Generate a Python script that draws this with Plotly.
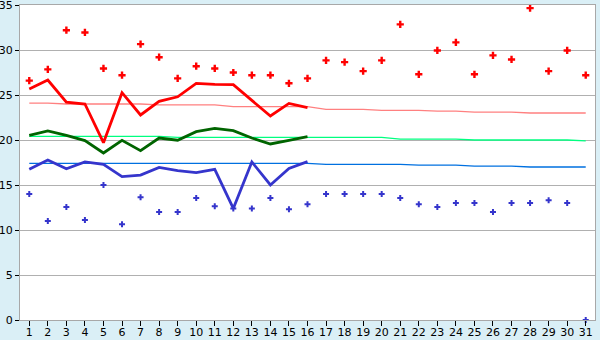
import plotly.graph_objects as go

days = list(range(1, 32))
tick_labels = [str(d) for d in days]
y_ticks = [0, 5, 10, 15, 20, 25, 30, 35]

# daily maxima (markers)
max_pts = [26.6, 27.85, 32.2, 31.95, 27.95, 27.2, 30.65, 29.2, 26.85, 28.2,
           27.95, 27.5, 27.2, 27.2, 26.3, 26.85, 28.85, 28.65, 27.65, 28.85,
           32.85, 27.3, 29.95, 30.85, 27.3, 29.4, 28.95, 34.65, 27.65, 29.95, 27.2]
# daily minima (markers)
min_pts = [14.0, 11.0, 12.55, 11.1, 15.0, 10.65, 13.65, 12.0, 12.0, 13.55,
           12.65, 12.4, 12.4, 13.55, 12.3, 12.85, 14.0, 14.0, 14.0, 14.0,
           13.55, 12.85, 12.55, 13.0, 13.0, 12.0, 13.0, 13.0, 13.3, 13.0, 0.0]

# thick lines (days 1-16)
line_days = list(range(1, 17))
red_line = [25.67, 26.67, 24.2, 24.0, 19.7, 25.26, 22.78, 24.3, 24.8, 26.3,
            26.18, 26.15, 24.4, 22.67, 24.07, 23.6]
green_line = [20.52, 21.0, 20.52, 19.93, 18.56, 19.96, 18.82, 20.22, 19.98, 20.93,
              21.3, 21.04, 20.22, 19.56, 19.96, 20.37]
blue_line = [16.74, 17.78, 16.81, 17.56, 17.3, 15.93, 16.1, 16.96, 16.6, 16.37,
             16.74, 12.4, 17.56, 15.0, 16.85, 17.59]

# thin normal lines (days 1-31)
pink_norm = [24.1, 24.1, 24.0, 24.0, 24.0, 24.0, 24.0, 23.9, 23.9, 23.9,
             23.9, 23.7, 23.7, 23.7, 23.7, 23.7, 23.4, 23.4, 23.4, 23.3,
             23.3, 23.3, 23.2, 23.2, 23.1, 23.1, 23.1, 23.0, 23.0, 23.0, 23.0]
lgreen_norm = [20.4, 20.4, 20.4, 20.4, 20.4, 20.4, 20.4, 20.4, 20.3, 20.3,
               20.3, 20.3, 20.3, 20.3, 20.3, 20.3, 20.3, 20.3, 20.3, 20.3,
               20.1, 20.1, 20.1, 20.1, 20.0, 20.0, 20.0, 20.0, 20.0, 20.0, 19.9]
lblue_norm = [17.4, 17.4, 17.4, 17.4, 17.4, 17.4, 17.4, 17.4, 17.4, 17.4,
              17.4, 17.4, 17.4, 17.4, 17.4, 17.4, 17.3, 17.3, 17.3, 17.3,
              17.3, 17.2, 17.2, 17.2, 17.1, 17.1, 17.1, 17.0, 17.0, 17.0, 17.0]

fig = go.Figure()
fig.add_trace(go.Scatter(x=days, y=pink_norm, mode="lines",
                         line=dict(color="#FF8080", width=1.3)))
fig.add_trace(go.Scatter(x=days, y=lgreen_norm, mode="lines",
                         line=dict(color="#00FF80", width=1.3)))
fig.add_trace(go.Scatter(x=days, y=lblue_norm, mode="lines",
                         line=dict(color="#0070E0", width=1.3)))
fig.add_trace(go.Scatter(x=line_days, y=red_line, mode="lines",
                         line=dict(color="#FF0000", width=2.8)))
fig.add_trace(go.Scatter(x=line_days, y=green_line, mode="lines",
                         line=dict(color="#006400", width=2.8)))
fig.add_trace(go.Scatter(x=line_days, y=blue_line, mode="lines",
                         line=dict(color="#3535CC", width=2.8)))
fig.add_trace(go.Scatter(x=days, y=max_pts, mode="markers", cliponaxis=False,
                         marker=dict(symbol="cross", size=6, color="#FF0000",
                                     line=dict(width=0))))
fig.add_trace(go.Scatter(x=days, y=min_pts, mode="markers", cliponaxis=False,
                         marker=dict(symbol="cross", size=5, color="#3535CC",
                                     line=dict(width=0))))

fig.update_layout(
    width=600, height=340,
    margin=dict(l=20, r=5, t=5, b=20, pad=0),
    paper_bgcolor="#DAEFF6",
    plot_bgcolor="#FFFFFF",
    showlegend=False,
    font=dict(family="DejaVu Sans", size=11, color="#000000"),
)
fig.update_xaxes(
    range=[0.5, 31.5], tickmode="array", tickvals=days, ticktext=tick_labels,
    automargin=False, ticklabeloverflow="allow",
    showgrid=False, zeroline=False, showline=True, linecolor="#A8A8A8", linewidth=1,
    mirror=True, ticks="outside", ticklen=5, tickcolor="#000000", tickwidth=1,
    tickfont=dict(size=11), ticklabelstandoff=-3,
)
fig.update_yaxes(
    range=[0, 35.001], tickmode="array", tickvals=y_ticks,
    ticktext=[str(v) for v in y_ticks],
    automargin=False, ticklabeloverflow="allow",
    showgrid=True, gridcolor="#B0B0B0", gridwidth=1, zeroline=False,
    showline=True, linecolor="#A8A8A8", linewidth=1, mirror=True,
    ticks="outside", ticklen=4, tickcolor="#000000", tickwidth=1,
    tickfont=dict(size=11),
)

fig.write_html("out.html", config={"displayModeBar": False},
               post_script="document.body.style.margin='0';")
